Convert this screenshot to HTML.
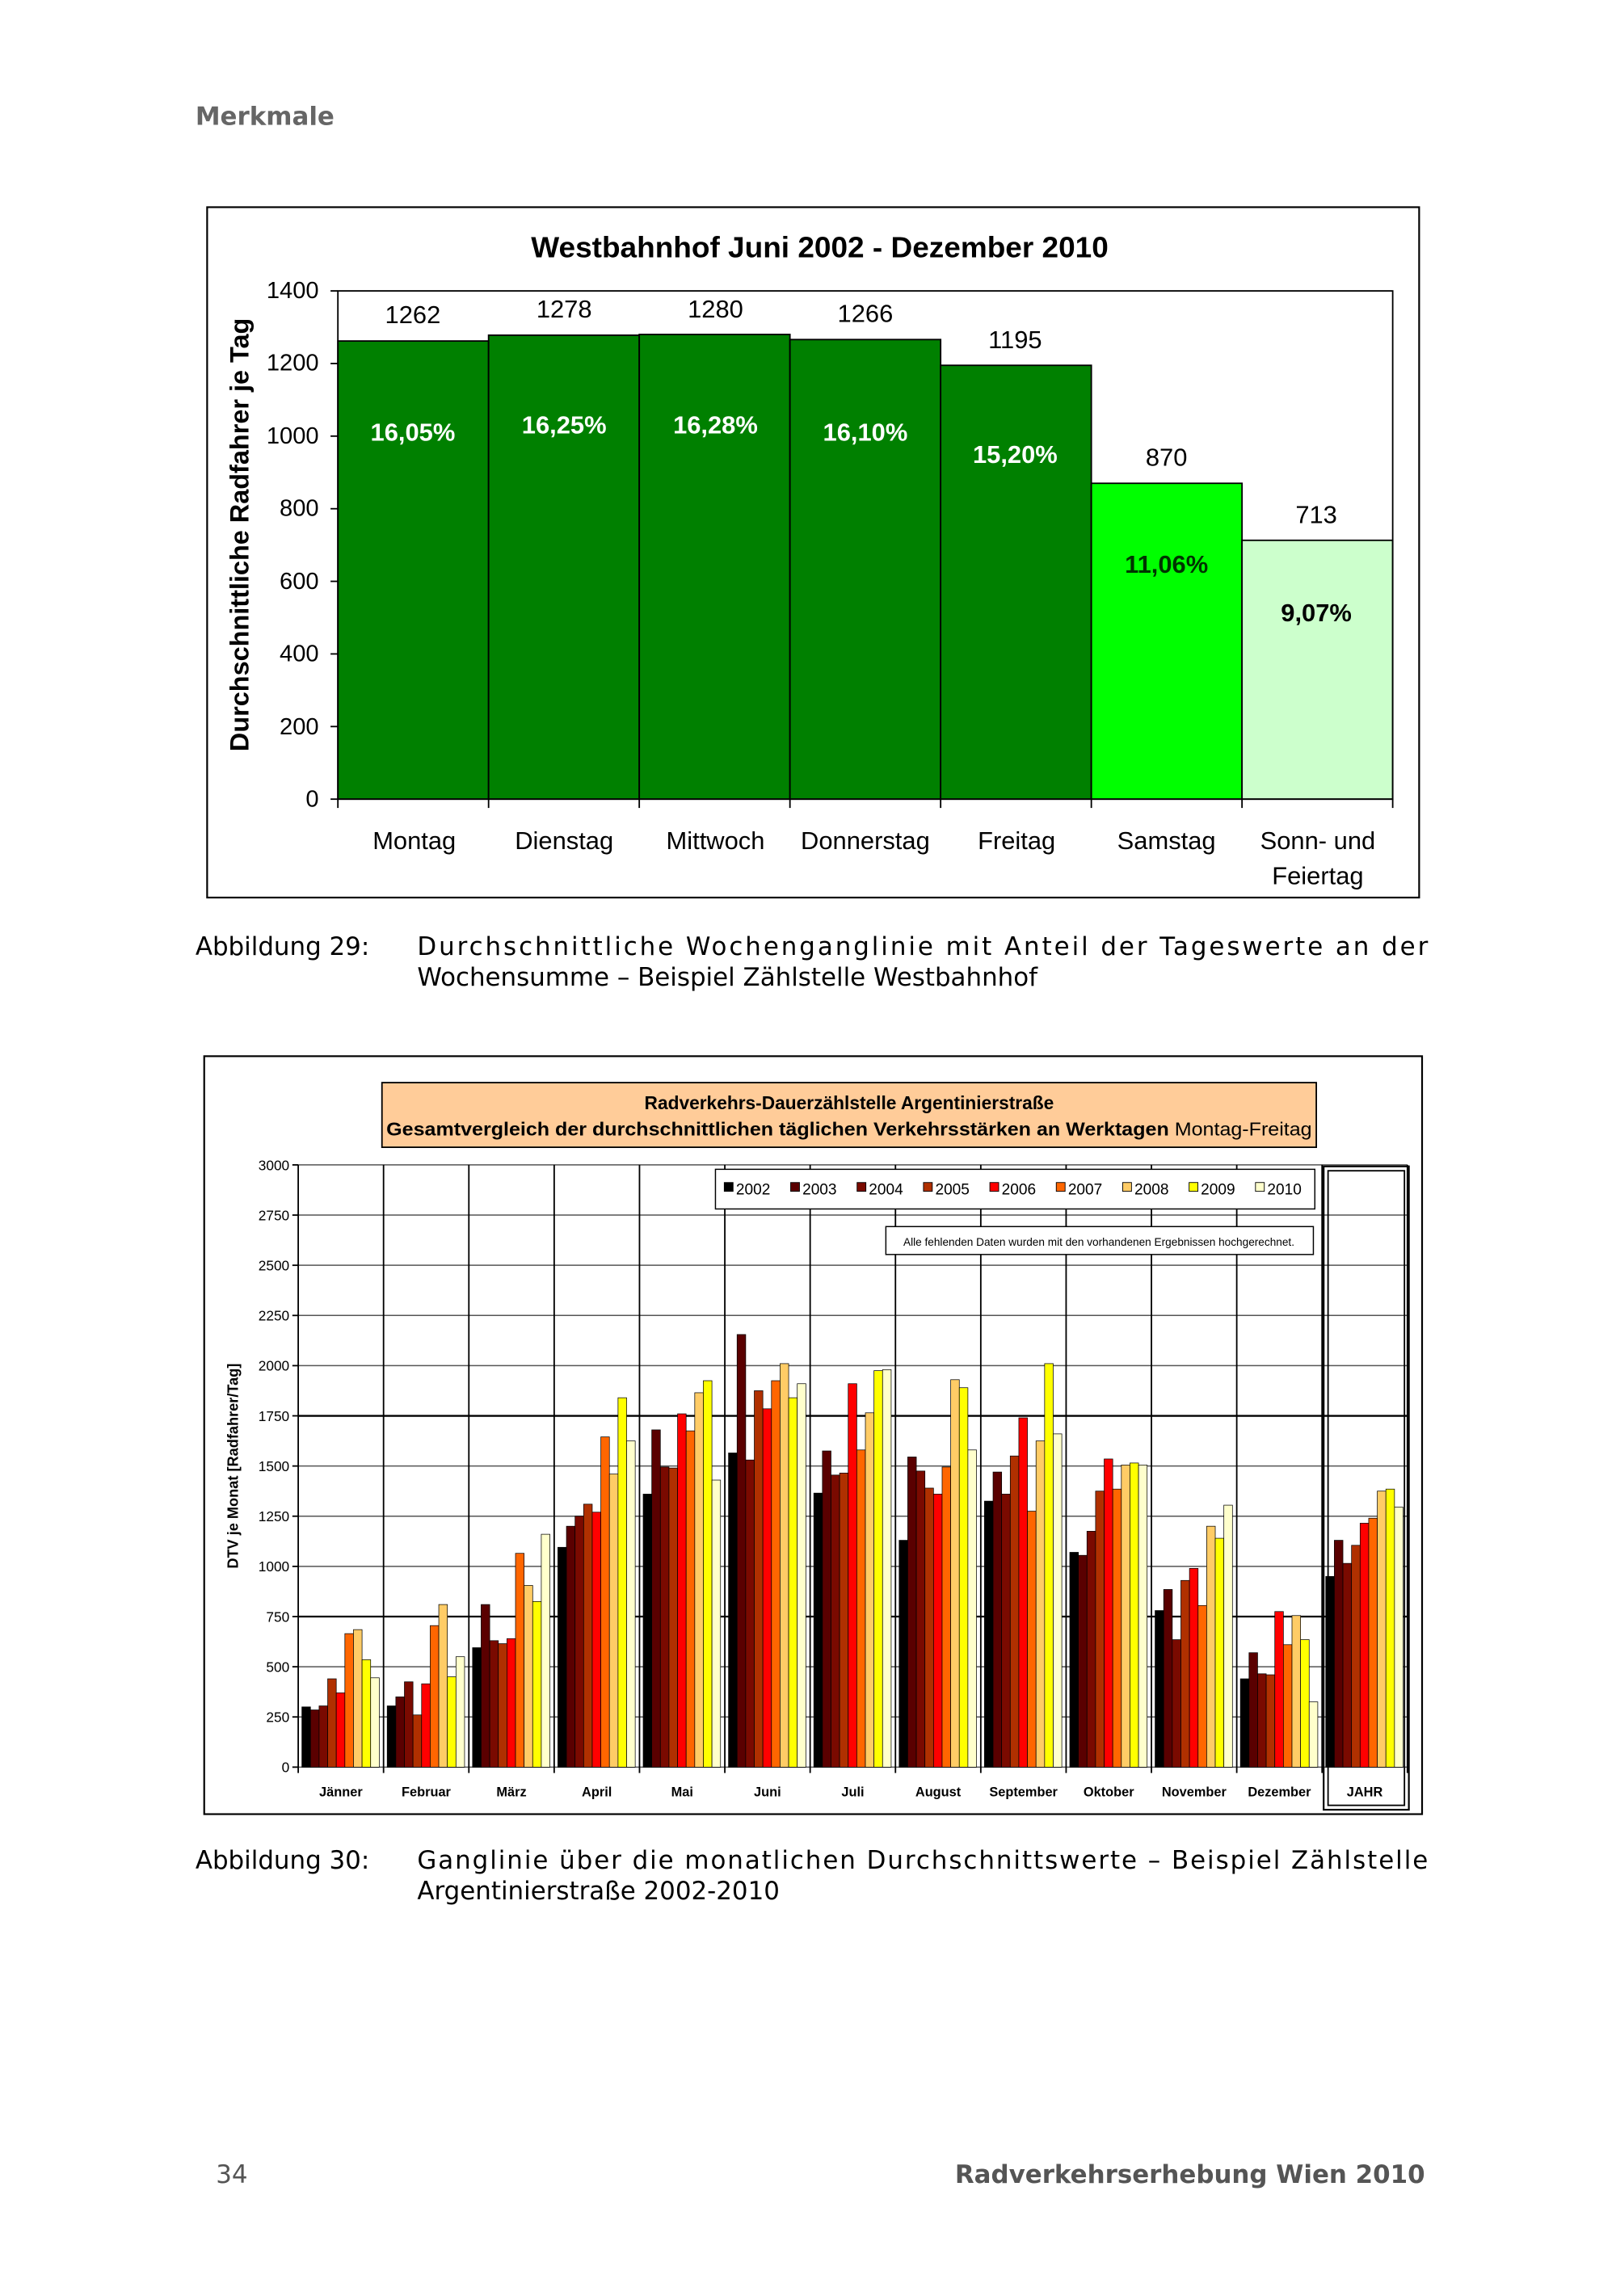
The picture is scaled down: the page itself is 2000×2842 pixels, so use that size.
<!DOCTYPE html>
<html><head><meta charset="utf-8"><style>
html,body{margin:0;padding:0;background:#fff;}
svg{display:block;}
</style></head><body>
<svg id="s" width="2000" height="2842" viewBox="0 0 1100 1563" xmlns="http://www.w3.org/2000/svg" font-family="Liberation Sans, sans-serif">
<text x="133" y="85" font-family="DejaVu Sans, sans-serif" font-weight="bold" font-size="17" fill="#666">Merkmale</text>

<!-- Chart 1 -->
<rect x="141" y="141" width="825" height="470" fill="#fff" stroke="#000" stroke-width="1.2"/>
<text x="558" y="175" text-anchor="middle" font-weight="bold" font-size="20" textLength="393" lengthAdjust="spacingAndGlyphs">Westbahnhof Juni 2002 - Dezember 2010</text>
<g id="c1"></g>
<rect x="230" y="198" width="718" height="346" fill="none" stroke="#000" stroke-width="1"/>
<g font-size="16" text-anchor="end">
<text x="217" y="549">0</text><text x="217" y="500">200</text><text x="217" y="450">400</text><text x="217" y="401">600</text><text x="217" y="351">800</text><text x="217" y="302">1000</text><text x="217" y="252">1200</text><text x="217" y="203">1400</text>
</g>
<text transform="translate(169,364) rotate(-90)" text-anchor="middle" font-weight="bold" font-size="18" textLength="295" lengthAdjust="spacingAndGlyphs">Durchschnittliche Radfahrer je Tag</text>
<g font-size="17" text-anchor="middle">
<text x="281" y="220">1262</text><text x="384" y="216">1278</text><text x="487" y="216">1280</text><text x="589" y="219">1266</text><text x="691" y="237">1195</text><text x="794" y="317">870</text><text x="896" y="356">713</text>
</g>
<g font-size="17" font-weight="bold" text-anchor="middle">
<text x="281" y="300" fill="#fff">16,05%</text><text x="384" y="295" fill="#fff">16,25%</text><text x="487" y="295" fill="#fff">16,28%</text><text x="589" y="300" fill="#fff">16,10%</text><text x="691" y="315" fill="#fff">15,20%</text><text x="794" y="390" fill="#003300">11,06%</text><text x="896" y="423" fill="#000">9,07%</text>
</g>
<g font-size="17" text-anchor="middle">
<text x="282" y="578">Montag</text><text x="384" y="578">Dienstag</text><text x="487" y="578">Mittwoch</text><text x="589" y="578">Donnerstag</text><text x="692" y="578">Freitag</text><text x="794" y="578">Samstag</text><text x="897" y="578">Sonn- und</text><text x="897" y="602">Feiertag</text>
</g>

<g font-family="DejaVu Sans, sans-serif" font-size="17">
<text x="133" y="650">Abbildung 29:</text>
<text x="284" y="650" textLength="688" lengthAdjust="spacing">Durchschnittliche Wochenganglinie mit Anteil der Tageswerte an der</text>
<text x="284" y="671">Wochensumme – Beispiel Zählstelle Westbahnhof</text>
</g>

<!-- Chart 2 -->
<rect x="139" y="719" width="829" height="516" fill="#fff" stroke="#000" stroke-width="1.2"/>
<rect x="260" y="737" width="636" height="44" fill="#FFCC99" stroke="#000" stroke-width="1"/>
<text x="578" y="755" text-anchor="middle" font-weight="bold" font-size="12.5">Radverkehrs-Dauerzählstelle Argentinierstraße</text>
<text x="578" y="773" text-anchor="middle" font-size="12.5" textLength="630" lengthAdjust="spacingAndGlyphs"><tspan font-weight="bold">Gesamtvergleich der durchschnittlichen täglichen Verkehrsstärken an Werktagen</tspan> Montag-Freitag</text>
<g id="grid"></g>
<g id="bars"></g>
<rect x="487" y="796" width="408" height="27" fill="#fff" stroke="#000" stroke-width="0.8"/>
<g id="leg" font-size="10.5"></g>
<rect x="603" y="835" width="291" height="19" fill="#fff" stroke="#000" stroke-width="0.8"/>
<text x="748" y="848" text-anchor="middle" font-size="7.5">Alle fehlenden Daten wurden mit den vorhandenen Ergebnissen hochgerechnet.</text>
<rect x="901" y="794" width="58" height="438" fill="none" stroke="#000" stroke-width="1.2"/>
<rect x="904" y="797" width="52" height="432" fill="none" stroke="#000" stroke-width="1"/>
<g font-size="9.5" text-anchor="end" id="yt2"></g>
<text transform="translate(162,998) rotate(-90)" text-anchor="middle" font-weight="bold" font-size="10">DTV je Monat  [Radfahrer/Tag]</text>
<g font-size="9" font-weight="bold" text-anchor="middle" id="xl"></g>

<g font-family="DejaVu Sans, sans-serif" font-size="17">
<text x="133" y="1272">Abbildung 30:</text>
<text x="284" y="1272" textLength="688" lengthAdjust="spacing">Ganglinie über die monatlichen Durchschnittswerte – Beispiel Zählstelle</text>
<text x="284" y="1293">Argentinierstraße 2002-2010</text>
<text x="147" y="1486" fill="#555">34</text>
<text x="970" y="1486" text-anchor="end" font-weight="bold" fill="#555">Radverkehrserhebung Wien 2010</text>
</g>
</svg>
<script>
var NS="http://www.w3.org/2000/svg";
function el(p,t,a,txt){var e=document.createElementNS(NS,t);for(var k in a)e.setAttribute(k,a[k]);if(txt!=null)e.textContent=txt;document.getElementById(p).appendChild(e);return e;}
var v1=[1262,1278,1280,1266,1195,870,713],c1=["#008000","#008000","#008000","#008000","#008000","#00FF00","#CCFFCC"];
var bw=718/7;
for(var i=0;i<7;i++){var h=v1[i]*346/1400;el("c1","rect",{x:230+i*bw,y:544-h,width:bw,height:h,fill:c1[i],stroke:"#000","stroke-width":1});
el("c1","line",{x1:230+i*bw,x2:230+i*bw,y1:544,y2:550,stroke:"#000"});}
el("c1","line",{x1:948,x2:948,y1:544,y2:550,stroke:"#000"});
for(var j=0;j<=7;j++){var y=544-j*346/7;el("c1","line",{x1:225,x2:230,y1:y,y2:y,stroke:"#000"});}
var L=203,R=958,T=793,B=1203,gw=(R-L)/13;
for(var j=0;j<=12;j++){var y=B-j*(B-T)/12;el("grid","line",{x1:L,x2:R,y1:y,y2:y,stroke:(j==3||j==7)?"#000":"#555","stroke-width":(j==3||j==7)?1.3:0.8});
el("yt2","text",{x:L-6,y:y+3.5},String(j*250));el("grid","line",{x1:L-4,x2:L,y1:y,y2:y,stroke:"#000"});}
for(var m=0;m<=13;m++){var x=L+m*gw;el("grid","line",{x1:x,x2:x,y1:T,y2:B+4,stroke:"#000","stroke-width":1});}
var cols=["#000000","#5A0000","#7A0A00","#B03000","#FF0000","#FF6600","#FFCC66","#FFFF00","#FFFFCC"];
var D=[[300,285,305,440,370,665,685,535,445],[305,350,425,260,415,705,810,450,550],[595,810,630,615,640,1065,905,825,1160],[1095,1200,1250,1310,1270,1645,1460,1840,1625],[1360,1680,1495,1490,1760,1675,1865,1925,1430],[1565,2155,1530,1875,1785,1925,2010,1840,1910],[1365,1575,1455,1465,1910,1580,1765,1975,1980],[1130,1545,1475,1390,1360,1495,1930,1890,1580],[1325,1470,1360,1550,1740,1275,1625,2010,1660],[1070,1055,1175,1375,1535,1385,1505,1515,1505],[780,885,635,930,990,805,1200,1140,1305],[440,570,465,460,775,610,755,635,325],[950,1130,1015,1105,1215,1240,1375,1385,1295]];
var names=["Jänner","Februar","März","April","Mai","Juni","Juli","August","September","Oktober","November","Dezember","JAHR"];
for(var m=0;m<13;m++){for(var k=0;k<9;k++){var h=D[m][k]*(B-T)/3000;el("bars","rect",{x:L+m*gw+2.5+k*5.85,y:B-h,width:5.85,height:h,fill:cols[k],stroke:"#000","stroke-width":0.4});}
el("xl","text",{x:L+m*gw+gw/2,y:1223},names[m]);}
var yrs=["2002","2003","2004","2005","2006","2007","2008","2009","2010"];
for(var k=0;k<9;k++){var x=493+k*45.2;el("leg","rect",{x:x,y:805,width:6,height:6,fill:cols[k],stroke:"#000","stroke-width":0.5});el("leg","text",{x:x+8,y:813},yrs[k]);}
</script>
</body></html>
